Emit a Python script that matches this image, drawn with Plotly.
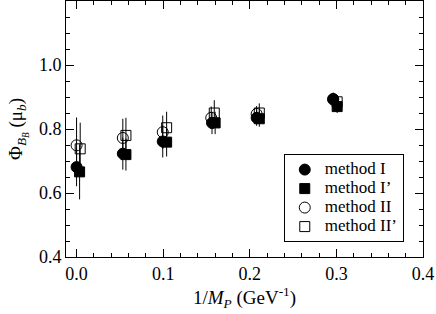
import plotly.graph_objects as go

# Data
x_I = [0.0, 0.0534, 0.0995, 0.1564, 0.2079, 0.2963]
y_I = [0.681, 0.723, 0.761, 0.819, 0.835, 0.894]
e_I = [0.06, 0.05, 0.05, 0.035, 0.025, 0.02]

x_Ip = [0.0035, 0.057, 0.104, 0.160, 0.211, 0.3009]
y_Ip = [0.666, 0.720, 0.759, 0.819, 0.832, 0.870]
e_Ip = [0.086, 0.05, 0.045, 0.035, 0.025, 0.02]

x_II = [0.0, 0.0534, 0.0995, 0.1555, 0.2079, 0.2963]
y_II = [0.749, 0.772, 0.790, 0.835, 0.847, 0.892]
e_II = [0.087, 0.06, 0.052, 0.035, 0.025, 0.02]

x_IIp = [0.0042, 0.057, 0.104, 0.159, 0.211, 0.3009]
y_IIp = [0.738, 0.780, 0.804, 0.850, 0.850, 0.885]
e_IIp = [0.082, 0.055, 0.05, 0.04, 0.03, 0.02]

names = ["method I", "method I\u2019", "method II", "method II\u2019"]

FONT = "Liberation Serif, Times New Roman, serif"

fig = go.Figure()
series = [
    (x_I, y_I, e_I, "circle", 11),
    (x_Ip, y_Ip, e_Ip, "square", 10),
    (x_II, y_II, e_II, "circle-open", 11),
    (x_IIp, y_IIp, e_IIp, "square-open", 10),
]
for (xs, ys, es, sym, sz), nm in zip(series, names):
    fig.add_trace(go.Scatter(
        x=xs, y=ys, mode="markers",
        name='<span style="font-size:17px">' + nm + '</span>',
        marker=dict(symbol=sym, size=sz, color="black", line=dict(color="black", width=1)),
        error_y=dict(type="data", array=es, visible=True, color="black", thickness=1, width=0),
    ))

axis_common = dict(
    showgrid=False, zeroline=False, showline=True, linecolor="black", linewidth=1,
    mirror="ticks", ticks="inside", ticklen=8, tickcolor="black", tickwidth=1,
    tickfont=dict(family=FONT, size=18, color="black"),
)

fig.update_xaxes(
    range=[-0.0122, 0.4], tickvals=[0.0, 0.1, 0.2, 0.3, 0.4],
    ticktext=["0.0", "0.1", "0.2", "0.3", "0.4"],
    minor=dict(dtick=0.02, ticks="inside", ticklen=4, tickcolor="black"),
    title=dict(text="1/<i>M</i><sub><i>P</i></sub> (GeV<sup>-1</sup>)",
               font=dict(family=FONT, size=19, color="black"), standoff=4),
    **axis_common,
)
fig.update_yaxes(
    range=[0.4, 1.2], tickvals=[0.4, 0.6, 0.8, 1.0],
    ticktext=["0.4", "0.6", "0.8", "1.0"],
    minor=dict(tick0=0.4, dtick=0.05, ticks="inside", ticklen=4, tickcolor="black"),
    title=dict(text="\u03a6<sub><i>B<sub>B</sub></i></sub> (\u03bc<sub><i>b</i></sub>)",
               font=dict(family=FONT, size=19, color="black"), standoff=11),
    **axis_common,
)

fig.update_layout(
    width=436, height=314,
    margin=dict(l=66, r=13, t=1, b=57),
    plot_bgcolor="white", paper_bgcolor="white",
    font=dict(family=FONT, color="black"),
    legend=dict(
        x=0.61, y=0.402, xanchor="left", yanchor="top",
        bgcolor="white", bordercolor="black", borderwidth=1,
        font=dict(family=FONT, size=11, color="black"),
        tracegroupgap=0, itemwidth=30,
    ),
)

fig.write_html("out.html", config={"displayModeBar": False},
               post_script="document.body.style.margin='0';")
